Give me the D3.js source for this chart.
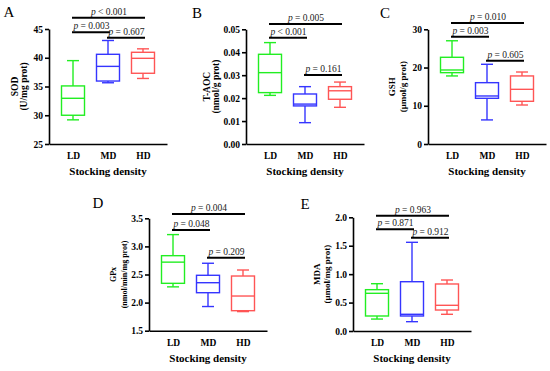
<!DOCTYPE html>
<html>
<head>
<meta charset="utf-8">
<script src="https://cdn.jsdelivr.net/npm/d3@7"></script>
<style>
  body { margin: 0; background: #fff; }
  svg { display: block; }
  text { font-family: "Liberation Serif", "Times New Roman", serif; }
</style>
</head>
<body>
<div id="chart"></div>
<script>
// groups and colours
var groups = ["LD", "MD", "HD"];
var groupColors = ["#22ee22", "#3535ff", "#ff5555"];

// box summaries per group: [min, q1, median, q3, max]
var sodValues  = [[29.2, 30.0, 32.95, 35.1, 39.5], [35.65, 35.95, 38.5, 40.6, 43.0], [36.4, 37.3, 39.9, 40.95, 41.55]];
var taocValues = [[0.0212, 0.0224, 0.0311, 0.0391, 0.0442], [0.0093, 0.0166, 0.0174, 0.0218, 0.025], [0.016, 0.0195, 0.0232, 0.025, 0.027]];
var gshValues  = [[17.8, 18.66, 19.36, 22.68, 27.0], [6.3, 11.95, 12.56, 16.04, 20.85], [10.2, 11.17, 14.3, 17.8, 18.83]];
var gpxValues  = [[2.28, 2.343, 2.72, 2.835, 3.21], [1.93, 2.176, 2.354, 2.486, 2.70], [1.84, 1.856, 2.117, 2.473, 2.58]];
var mdaValues  = [[0.21, 0.264, 0.663, 0.727, 0.832], [0.164, 0.264, 0.294, 0.867, 1.56], [0.294, 0.369, 0.452, 0.827, 0.897]];

// y ticks
var sodTicks  = [25, 30, 35, 40, 45];
var taocTicks = [0, 0.01, 0.02, 0.03, 0.04, 0.05];
var gshTicks  = [0, 10, 20, 30];
var gpxTicks  = [1.5, 2.0, 2.5, 3.0, 3.5];
var mdaTicks  = [0, 0.5, 1.0, 1.5, 2.0];

// significance brackets: [from group, to group, level (data units), text after p]
var sodSig  = [[0, 2, 46.97, "< 0.001"], [0, 1, 44.43, "= 0.003"], [1, 2, 43.49, "= 0.607"]];
var taocSig = [[0, 2, 0.0523, "= 0.005"], [0, 1, 0.0463, "< 0.001"], [1, 2, 0.0301, "= 0.161"]];
var gshSig  = [[0, 2, 31.65, "= 0.010"], [0, 1, 28.06, "= 0.003"], [1, 2, 21.8, "= 0.605"]];
var gpxSig  = [[0, 2, 3.577, "= 0.004"], [0, 1, 3.292, "= 0.048"], [1, 2, 2.80, "= 0.209"]];
var mdaSig  = [[0, 2, 2.028, "= 0.963"], [0, 1, 1.789, "= 0.871"], [1, 2, 1.641, "= 0.912"]];

var panels = [
  { letter: "A", label: ["SOD", "(U/mg prot)"], values: sodValues, ticks: sodTicks, fmt: d3.format("d"), sig: sodSig,
    x0: 49, top: 29, bottom: 144, lx: [-34, -25], lsize: 9.5, letterPos: [9, 17] },
  { letter: "B", label: ["T-AOC", "(nmol/g prot)"], values: taocValues, ticks: taocTicks, fmt: d3.format(".2f"), sig: taocSig,
    x0: 246, top: 29.3, bottom: 144, lx: [-39, -30], lsize: 9.5, letterPos: [197, 18] },
  { letter: "C", label: ["GSH", "(μmol/g prot)"], values: gshValues, ticks: gshTicks, fmt: d3.format("d"), sig: gshSig,
    x0: 428, top: 29.3, bottom: 144, lx: [-36, -25], lsize: 9, letterPos: [385, 18] },
  { letter: "D", label: ["GPx", "(nmol/min/mg prot)"], values: gpxValues, ticks: gpxTicks, fmt: d3.format(".1f"), sig: gpxSig,
    x0: 149, top: 218.3, bottom: 330.7, lx: [-36, -25], lsize: 8, letterPos: [98, 208] },
  { letter: "E", label: ["MDA", "(μmol/mg prot)"], values: mdaValues, ticks: mdaTicks, fmt: d3.format(".1f"), sig: mdaSig,
    x0: 353, top: 217.3, bottom: 331, lx: [-36, -26], lsize: 9, letterPos: [305, 209] }
];

var svg = d3.select("#chart")
    .append("svg")
    .attr("width", 550)
    .attr("height", 371);

var xLen = 118, boxW = 23, capW = 12;

panels.forEach(function (p) {
    var g = svg.append("g");

    var x = d3.scalePoint()
        .domain(groups)
        .range([p.x0, p.x0 + xLen])
        .padding(0.686);

    var y = d3.scaleLinear()
        .domain([p.ticks[0], p.ticks[p.ticks.length - 1]])
        .range([p.bottom, p.top]);

    // y axis
    var ya = g.append("g")
        .attr("transform", "translate(" + p.x0 + ",0)")
        .call(d3.axisLeft(y).tickValues(p.ticks).tickFormat(p.fmt).tickSize(4).tickSizeOuter(0).tickPadding(2));
    ya.selectAll("path, line").attr("stroke", "#000").attr("stroke-width", 1.6);
    ya.selectAll("text").style("font-family", "'Liberation Serif', serif")
        .style("font-weight", "bold").style("font-size", "9.5px").attr("fill", "#000");

    // x axis
    var xa = g.append("g")
        .attr("transform", "translate(0," + p.bottom + ")")
        .call(d3.axisBottom(x).tickSize(0).tickSizeOuter(0).tickPadding(8.5));
    xa.select("path").attr("stroke", "#000").attr("stroke-width", 1.6);
    xa.selectAll("text").style("font-family", "'Liberation Serif', serif")
        .style("font-weight", "bold").style("font-size", "9.5px").attr("fill", "#000");

    // boxes
    var box = g.selectAll(".box")
        .data(p.values)
        .enter()
        .append("g")
        .attr("stroke", function (d, i) { return groupColors[i]; })
        .attr("stroke-width", 1.4)
        .attr("fill", "none");

    box.append("line")
        .attr("x1", function (d, i) { return x(groups[i]); })
        .attr("x2", function (d, i) { return x(groups[i]); })
        .attr("y1", function (d) { return y(d[0]); })
        .attr("y2", function (d) { return y(d[1]); });
    box.append("line")
        .attr("x1", function (d, i) { return x(groups[i]); })
        .attr("x2", function (d, i) { return x(groups[i]); })
        .attr("y1", function (d) { return y(d[3]); })
        .attr("y2", function (d) { return y(d[4]); });
    [0, 4].forEach(function (k) {
        box.append("line")
            .attr("x1", function (d, i) { return x(groups[i]) - capW / 2; })
            .attr("x2", function (d, i) { return x(groups[i]) + capW / 2; })
            .attr("y1", function (d) { return y(d[k]); })
            .attr("y2", function (d) { return y(d[k]); });
    });
    box.append("rect")
        .attr("x", function (d, i) { return x(groups[i]) - boxW / 2; })
        .attr("width", boxW)
        .attr("y", function (d) { return y(d[3]); })
        .attr("height", function (d) { return y(d[1]) - y(d[3]); });
    box.append("line")
        .attr("x1", function (d, i) { return x(groups[i]) - boxW / 2; })
        .attr("x2", function (d, i) { return x(groups[i]) + boxW / 2; })
        .attr("y1", function (d) { return y(d[2]); })
        .attr("y2", function (d) { return y(d[2]); });

    // significance brackets
    g.selectAll(".sig")
        .data(p.sig)
        .enter()
        .append("line")
        .attr("x1", function (d) { return x(groups[d[0]]) - 1; })
        .attr("x2", function (d) { return x(groups[d[1]]) + 2; })
        .attr("y1", function (d) { return y(d[2]); })
        .attr("y2", function (d) { return y(d[2]); })
        .attr("stroke", "#000")
        .attr("stroke-width", 2);

    var st = g.selectAll(".sigtext")
        .data(p.sig)
        .enter()
        .append("text")
        .attr("x", function (d) { return (x(groups[d[0]]) + x(groups[d[1]])) / 2 + 1; })
        .attr("y", function (d) { return y(d[2]) - 3; })
        .attr("text-anchor", "middle")
        .style("font-size", "9.5px")
        .attr("fill", "#222");
    st.append("tspan").style("font-style", "italic").text("p");
    st.append("tspan").text(function (d) { return " " + d[3]; });

    // y axis label
    var mid = (p.top + p.bottom) / 2;
    p.label.forEach(function (t, i) {
        g.append("text")
            .attr("transform", "translate(" + (p.x0 + p.lx[i]) + "," + mid + ") rotate(-90)")
            .attr("text-anchor", "middle")
            .attr("dy", "0.35em")
            .style("font-size", p.lsize + "px")
            .style("font-weight", "bold")
            .text(t);
    });

    // x axis label
    g.append("text")
        .attr("x", p.x0 + xLen / 2)
        .attr("y", p.bottom + 31)
        .attr("text-anchor", "middle")
        .style("font-size", "11px")
        .style("font-weight", "bold")
        .text("Stocking density");

    // panel letter
    g.append("text")
        .attr("x", p.letterPos[0])
        .attr("y", p.letterPos[1])
        .attr("text-anchor", "middle")
        .style("font-size", "15px")
        .text(p.letter);
});
</script>
</body>
</html>
